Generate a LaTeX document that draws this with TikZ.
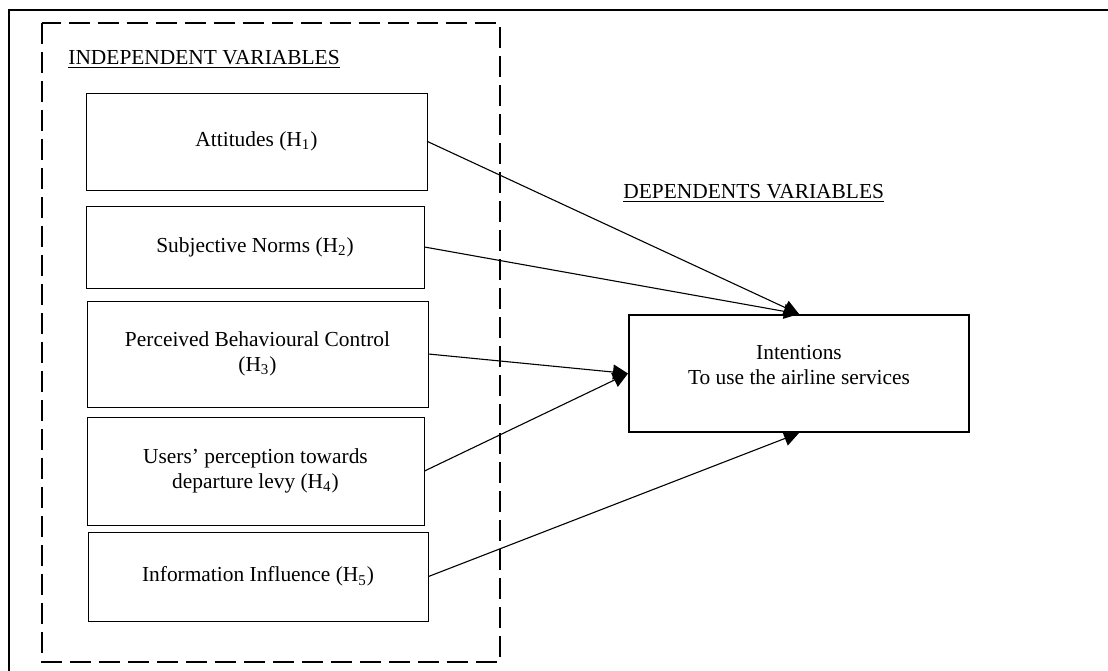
\documentclass[tikz,border=0pt]{standalone}
\usepackage{fontspec}
\setmainfont{Liberation Serif}
\usetikzlibrary{arrows.meta}
\begin{document}
\begin{tikzpicture}[x=0.5pt,y=-0.5pt,
  font=\fontsize{10.7}{12.4}\selectfont,
  box/.style={draw, line width=0.5pt, inner sep=0pt, align=center},
  conn/.style={line width=0.55pt, -{Triangle[length=7.5pt,width=7.5pt]}},
  lbl/.style={inner sep=0pt, anchor=base west}]
\useasboundingbox (0,0) rectangle (1108,670);
\clip (0,0) rectangle (1108,670);
% outer frame (partly outside the picture)
\draw[line width=1pt] (9,720) -- (9,10) -- (1140,10);
% dashed group
\draw[line width=1pt, dash pattern=on 10.5pt off 4pt] (42,23) rectangle (500,662);
% titles
\node[lbl] (indep) at (68,64) {\underline{INDEPENDENT VARIABLES}};
\node[lbl] (dep) at (623,198) {\underline{DEPENDENTS VARIABLES}};
% independent variable boxes
\node[box, minimum width=170.5pt, minimum height=48.5pt] (att) at (256.5,141.5) {Attitudes (H\textsubscript{1})};
\node[box, minimum width=169pt, minimum height=41pt] (subj) at (255,247) {Subjective Norms (H\textsubscript{2})};
\node[box, minimum width=170.5pt, minimum height=53pt] (pbc) at (257.5,354) {Perceived Behavioural Control\\(H\textsubscript{3})};
\node[box, minimum width=168.5pt, minimum height=54pt] (users) at (255.5,471) {Users’ perception towards\\departure levy (H\textsubscript{4})};
\node[box, minimum width=170pt, minimum height=44.5pt] (info) at (258,576.5) {Information Influence (H\textsubscript{5})};
% dependent variable box
\node[draw, line width=1pt, inner sep=0pt, minimum width=170pt, minimum height=58.5pt] (intent) at (799,373.5) {};
\node[inner sep=0pt, align=center] (intenttext) at (799,365) {Intentions\\To use the airline services};
% connectors
\draw[conn] (att.east) -- (intent.north);
\draw[conn] (subj.east) -- (intent.north);
\draw[conn] (pbc.east) -- (intent.west);
\draw[conn] (users.east) -- (intent.west);
\draw[conn] (info.east) -- (intent.south);
\end{tikzpicture}
\end{document}
